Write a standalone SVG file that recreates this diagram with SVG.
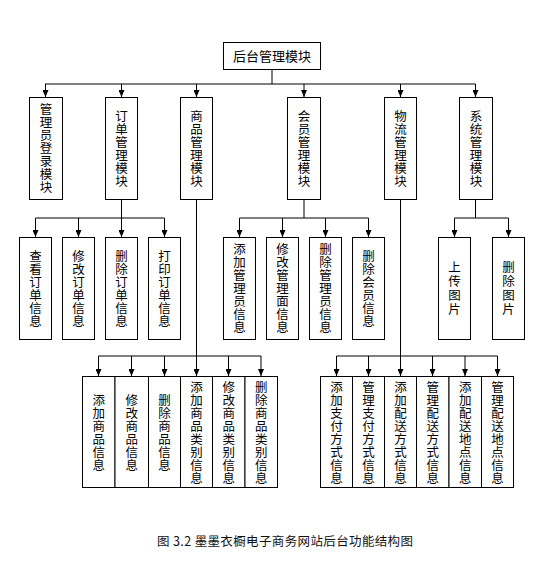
<svg xmlns="http://www.w3.org/2000/svg" width="550" height="577" viewBox="0 0 550 577">
<style>
.box{fill:#fff;stroke:#000;stroke-width:1}
.ln{fill:none;stroke:#000;stroke-width:1}
.t{font-family:"Noto Sans CJK SC","Noto Sans CJK JP",sans-serif;font-size:12.5px;fill:#000;text-anchor:middle}
.cap{font-family:"Noto Sans CJK SC","Noto Sans CJK JP",sans-serif;font-size:12.5px;fill:#111}
</style>
<defs>
<marker id="ah" markerUnits="userSpaceOnUse" markerWidth="7" markerHeight="6" viewBox="0 0 7 6" refX="7" refY="3" orient="auto">
<path d="M0,0 L7,3 L0,6 z" fill="#000"/>
</marker>
</defs>
<rect width="550" height="577" fill="#fff"/>

<g id="connectors">
<path class="ln" d="M272,69 V84 M45,84 H475.5"/>
<path class="ln" marker-end="url(#ah)" d="M45.5,84 V97"/>
<path class="ln" marker-end="url(#ah)" d="M121.5,84 V97"/>
<path class="ln" marker-end="url(#ah)" d="M196.5,84 V97"/>
<path class="ln" marker-end="url(#ah)" d="M304,84 V97"/>
<path class="ln" marker-end="url(#ah)" d="M400.5,84 V97"/>
<path class="ln" marker-end="url(#ah)" d="M475.5,84 V97"/>

<path class="ln" d="M121.5,199 V218 M35.5,218 H164.5"/>
<path class="ln" marker-end="url(#ah)" d="M35.5,218 V237"/>
<path class="ln" marker-end="url(#ah)" d="M78.5,218 V237"/>
<path class="ln" marker-end="url(#ah)" d="M121.5,218 V237"/>
<path class="ln" marker-end="url(#ah)" d="M164.5,218 V237"/>

<path class="ln" d="M304,199 V218 M239.5,218 H368.5"/>
<path class="ln" marker-end="url(#ah)" d="M239.5,218 V237"/>
<path class="ln" marker-end="url(#ah)" d="M282.5,218 V237"/>
<path class="ln" marker-end="url(#ah)" d="M325.5,218 V237"/>
<path class="ln" marker-end="url(#ah)" d="M368.5,218 V237"/>

<path class="ln" d="M475.5,199 V218 M454.5,218 H508.5"/>
<path class="ln" marker-end="url(#ah)" d="M454.5,218 V237"/>
<path class="ln" marker-end="url(#ah)" d="M508.5,218 V237"/>

<path class="ln" d="M196.5,199 V356 M98.5,356 H261"/>
<path class="ln" marker-end="url(#ah)" d="M98.5,356 V376"/>
<path class="ln" marker-end="url(#ah)" d="M131.5,356 V376"/>
<path class="ln" marker-end="url(#ah)" d="M164.5,356 V376"/>
<path class="ln" marker-end="url(#ah)" d="M196.5,356 V376"/>
<path class="ln" marker-end="url(#ah)" d="M228.5,356 V376"/>
<path class="ln" marker-end="url(#ah)" d="M261,356 V376"/>

<path class="ln" d="M400.5,199 V356 M336.5,356 H497.5"/>
<path class="ln" marker-end="url(#ah)" d="M336.5,356 V376"/>
<path class="ln" marker-end="url(#ah)" d="M368.5,356 V376"/>
<path class="ln" marker-end="url(#ah)" d="M400.5,356 V376"/>
<path class="ln" marker-end="url(#ah)" d="M432.5,356 V376"/>
<path class="ln" marker-end="url(#ah)" d="M465,356 V376"/>
<path class="ln" marker-end="url(#ah)" d="M497.5,356 V376"/>
</g>

<g id="root"><rect class="box" x="223.5" y="42.5" width="97" height="27"/><text class="t" x="272" y="61" style="font-size:13px">后台管理模块</text></g>

<g id="n-admin-login"><rect class="box" x="29.5" y="97.5" width="33" height="102"/>
<text class="t"><tspan x="46" y="114">管</tspan><tspan x="46" y="127">理</tspan><tspan x="46" y="140">员</tspan><tspan x="46" y="153">登</tspan><tspan x="46" y="166">录</tspan><tspan x="46" y="179">模</tspan><tspan x="46" y="192">块</tspan></text></g>
<g id="n-order"><rect class="box" x="105.5" y="97.5" width="32" height="102"/>
<text class="t"><tspan x="121.5" y="120.5">订</tspan><tspan x="121.5" y="133.5">单</tspan><tspan x="121.5" y="146.5">管</tspan><tspan x="121.5" y="159.5">理</tspan><tspan x="121.5" y="172.5">模</tspan><tspan x="121.5" y="185.5">块</tspan></text></g>
<g id="n-goods"><rect class="box" x="180.5" y="97.5" width="32" height="102"/>
<text class="t"><tspan x="196.5" y="120.5">商</tspan><tspan x="196.5" y="133.5">品</tspan><tspan x="196.5" y="146.5">管</tspan><tspan x="196.5" y="159.5">理</tspan><tspan x="196.5" y="172.5">模</tspan><tspan x="196.5" y="185.5">块</tspan></text></g>
<g id="n-member"><rect class="box" x="287.5" y="97.5" width="33" height="102"/>
<text class="t"><tspan x="304" y="120.5">会</tspan><tspan x="304" y="133.5">员</tspan><tspan x="304" y="146.5">管</tspan><tspan x="304" y="159.5">理</tspan><tspan x="304" y="172.5">模</tspan><tspan x="304" y="185.5">块</tspan></text></g>
<g id="n-logistics"><rect class="box" x="384.5" y="97.5" width="32" height="102"/>
<text class="t"><tspan x="400.5" y="120.5">物</tspan><tspan x="400.5" y="133.5">流</tspan><tspan x="400.5" y="146.5">管</tspan><tspan x="400.5" y="159.5">理</tspan><tspan x="400.5" y="172.5">模</tspan><tspan x="400.5" y="185.5">块</tspan></text></g>
<g id="n-system"><rect class="box" x="459.5" y="97.5" width="33" height="102"/>
<text class="t"><tspan x="476" y="120.5">系</tspan><tspan x="476" y="133.5">统</tspan><tspan x="476" y="146.5">管</tspan><tspan x="476" y="159.5">理</tspan><tspan x="476" y="172.5">模</tspan><tspan x="476" y="185.5">块</tspan></text></g>

<g id="o-view"><rect class="box" x="19.5" y="237.5" width="32" height="102"/>
<text class="t"><tspan x="35.5" y="260.5">查</tspan><tspan x="35.5" y="273.5">看</tspan><tspan x="35.5" y="286.5">订</tspan><tspan x="35.5" y="299.5">单</tspan><tspan x="35.5" y="312.5">信</tspan><tspan x="35.5" y="325.5">息</tspan></text></g>
<g id="o-edit"><rect class="box" x="62.5" y="237.5" width="32" height="102"/>
<text class="t"><tspan x="78.5" y="260.5">修</tspan><tspan x="78.5" y="273.5">改</tspan><tspan x="78.5" y="286.5">订</tspan><tspan x="78.5" y="299.5">单</tspan><tspan x="78.5" y="312.5">信</tspan><tspan x="78.5" y="325.5">息</tspan></text></g>
<g id="o-del"><rect class="box" x="105.5" y="237.5" width="32" height="102"/>
<text class="t"><tspan x="121.5" y="260.5">删</tspan><tspan x="121.5" y="273.5">除</tspan><tspan x="121.5" y="286.5">订</tspan><tspan x="121.5" y="299.5">单</tspan><tspan x="121.5" y="312.5">信</tspan><tspan x="121.5" y="325.5">息</tspan></text></g>
<g id="o-print"><rect class="box" x="148.5" y="237.5" width="32" height="102"/>
<text class="t"><tspan x="164.5" y="260.5">打</tspan><tspan x="164.5" y="273.5">印</tspan><tspan x="164.5" y="286.5">订</tspan><tspan x="164.5" y="299.5">单</tspan><tspan x="164.5" y="312.5">信</tspan><tspan x="164.5" y="325.5">息</tspan></text></g>

<g id="m-add"><rect class="box" x="223.5" y="237.5" width="32" height="102"/>
<text class="t"><tspan x="239.5" y="254">添</tspan><tspan x="239.5" y="267">加</tspan><tspan x="239.5" y="280">管</tspan><tspan x="239.5" y="293">理</tspan><tspan x="239.5" y="306">员</tspan><tspan x="239.5" y="319">信</tspan><tspan x="239.5" y="332">息</tspan></text></g>
<g id="m-edit"><rect class="box" x="266.5" y="237.5" width="32" height="102"/>
<text class="t"><tspan x="282.5" y="254">修</tspan><tspan x="282.5" y="267">改</tspan><tspan x="282.5" y="280">管</tspan><tspan x="282.5" y="293">理</tspan><tspan x="282.5" y="306">面</tspan><tspan x="282.5" y="319">信</tspan><tspan x="282.5" y="332">息</tspan></text></g>
<g id="m-deladmin"><rect class="box" x="309.5" y="237.5" width="32" height="102"/>
<text class="t"><tspan x="325.5" y="254">删</tspan><tspan x="325.5" y="267">除</tspan><tspan x="325.5" y="280">管</tspan><tspan x="325.5" y="293">理</tspan><tspan x="325.5" y="306">员</tspan><tspan x="325.5" y="319">信</tspan><tspan x="325.5" y="332">息</tspan></text></g>
<g id="m-delmember"><rect class="box" x="352.5" y="237.5" width="32" height="102"/>
<text class="t"><tspan x="368.5" y="260.5">删</tspan><tspan x="368.5" y="273.5">除</tspan><tspan x="368.5" y="286.5">会</tspan><tspan x="368.5" y="299.5">员</tspan><tspan x="368.5" y="312.5">信</tspan><tspan x="368.5" y="325.5">息</tspan></text></g>

<g id="s-upload"><rect class="box" x="438.5" y="237.5" width="32" height="102"/>
<text class="t"><tspan x="454.5" y="272">上</tspan><tspan x="454.5" y="286">传</tspan><tspan x="454.5" y="300">图</tspan><tspan x="454.5" y="314">片</tspan></text></g>
<g id="s-delete"><rect class="box" x="492.5" y="237.5" width="32" height="102"/>
<text class="t"><tspan x="508.5" y="272">删</tspan><tspan x="508.5" y="286">除</tspan><tspan x="508.5" y="300">图</tspan><tspan x="508.5" y="314">片</tspan></text></g>

<g id="g-add"><rect class="box" x="82.5" y="376.5" width="32.5" height="111"/>
<text class="t"><tspan x="98.75" y="404.5">添</tspan><tspan x="98.75" y="417.5">加</tspan><tspan x="98.75" y="430.5">商</tspan><tspan x="98.75" y="443.5">品</tspan><tspan x="98.75" y="456.5">信</tspan><tspan x="98.75" y="469.5">息</tspan></text></g>
<g id="g-edit"><rect class="box" x="115" y="376.5" width="33.5" height="111"/>
<text class="t"><tspan x="131.75" y="404.5">修</tspan><tspan x="131.75" y="417.5">改</tspan><tspan x="131.75" y="430.5">商</tspan><tspan x="131.75" y="443.5">品</tspan><tspan x="131.75" y="456.5">信</tspan><tspan x="131.75" y="469.5">息</tspan></text></g>
<g id="g-del"><rect class="box" x="148.5" y="376.5" width="32" height="111"/>
<text class="t"><tspan x="164.5" y="404.5">删</tspan><tspan x="164.5" y="417.5">除</tspan><tspan x="164.5" y="430.5">商</tspan><tspan x="164.5" y="443.5">品</tspan><tspan x="164.5" y="456.5">信</tspan><tspan x="164.5" y="469.5">息</tspan></text></g>
<g id="g-catadd"><rect class="box" x="180.5" y="376.5" width="32" height="111"/>
<text class="t"><tspan x="196.5" y="391.5">添</tspan><tspan x="196.5" y="404.5">加</tspan><tspan x="196.5" y="417.5">商</tspan><tspan x="196.5" y="430.5">品</tspan><tspan x="196.5" y="443.5">类</tspan><tspan x="196.5" y="456.5">别</tspan><tspan x="196.5" y="469.5">信</tspan><tspan x="196.5" y="482.5">息</tspan></text></g>
<g id="g-catedit"><rect class="box" x="212.5" y="376.5" width="32.5" height="111"/>
<text class="t"><tspan x="228.75" y="391.5">修</tspan><tspan x="228.75" y="404.5">改</tspan><tspan x="228.75" y="417.5">商</tspan><tspan x="228.75" y="430.5">品</tspan><tspan x="228.75" y="443.5">类</tspan><tspan x="228.75" y="456.5">别</tspan><tspan x="228.75" y="469.5">信</tspan><tspan x="228.75" y="482.5">息</tspan></text></g>
<g id="g-catdel"><rect class="box" x="245" y="376.5" width="32.5" height="111"/>
<text class="t"><tspan x="261.25" y="391.5">删</tspan><tspan x="261.25" y="404.5">除</tspan><tspan x="261.25" y="417.5">商</tspan><tspan x="261.25" y="430.5">品</tspan><tspan x="261.25" y="443.5">类</tspan><tspan x="261.25" y="456.5">别</tspan><tspan x="261.25" y="469.5">信</tspan><tspan x="261.25" y="482.5">息</tspan></text></g>

<g id="l-payadd"><rect class="box" x="320.5" y="376.5" width="32" height="111"/>
<text class="t"><tspan x="336.5" y="391.5">添</tspan><tspan x="336.5" y="404.5">加</tspan><tspan x="336.5" y="417.5">支</tspan><tspan x="336.5" y="430.5">付</tspan><tspan x="336.5" y="443.5">方</tspan><tspan x="336.5" y="456.5">式</tspan><tspan x="336.5" y="469.5">信</tspan><tspan x="336.5" y="482.5">息</tspan></text></g>
<g id="l-paymgr"><rect class="box" x="352.5" y="376.5" width="32" height="111"/>
<text class="t"><tspan x="368.5" y="391.5">管</tspan><tspan x="368.5" y="404.5">理</tspan><tspan x="368.5" y="417.5">支</tspan><tspan x="368.5" y="430.5">付</tspan><tspan x="368.5" y="443.5">方</tspan><tspan x="368.5" y="456.5">式</tspan><tspan x="368.5" y="469.5">信</tspan><tspan x="368.5" y="482.5">息</tspan></text></g>
<g id="l-shipadd"><rect class="box" x="384.5" y="376.5" width="32" height="111"/>
<text class="t"><tspan x="400.5" y="391.5">添</tspan><tspan x="400.5" y="404.5">加</tspan><tspan x="400.5" y="417.5">配</tspan><tspan x="400.5" y="430.5">送</tspan><tspan x="400.5" y="443.5">方</tspan><tspan x="400.5" y="456.5">式</tspan><tspan x="400.5" y="469.5">信</tspan><tspan x="400.5" y="482.5">息</tspan></text></g>
<g id="l-shipmgr"><rect class="box" x="416.5" y="376.5" width="32.5" height="111"/>
<text class="t"><tspan x="432.75" y="391.5">管</tspan><tspan x="432.75" y="404.5">理</tspan><tspan x="432.75" y="417.5">配</tspan><tspan x="432.75" y="430.5">送</tspan><tspan x="432.75" y="443.5">方</tspan><tspan x="432.75" y="456.5">式</tspan><tspan x="432.75" y="469.5">信</tspan><tspan x="432.75" y="482.5">息</tspan></text></g>
<g id="l-placeadd"><rect class="box" x="449" y="376.5" width="32.5" height="111"/>
<text class="t"><tspan x="465.25" y="391.5">添</tspan><tspan x="465.25" y="404.5">加</tspan><tspan x="465.25" y="417.5">配</tspan><tspan x="465.25" y="430.5">送</tspan><tspan x="465.25" y="443.5">地</tspan><tspan x="465.25" y="456.5">点</tspan><tspan x="465.25" y="469.5">信</tspan><tspan x="465.25" y="482.5">息</tspan></text></g>
<g id="l-placemgr"><rect class="box" x="481.5" y="376.5" width="32" height="111"/>
<text class="t"><tspan x="497.5" y="391.5">管</tspan><tspan x="497.5" y="404.5">理</tspan><tspan x="497.5" y="417.5">配</tspan><tspan x="497.5" y="430.5">送</tspan><tspan x="497.5" y="443.5">地</tspan><tspan x="497.5" y="456.5">点</tspan><tspan x="497.5" y="469.5">信</tspan><tspan x="497.5" y="482.5">息</tspan></text></g>

<text class="cap" x="157" y="546" textLength="256" lengthAdjust="spacing">图 3.2 墨墨衣橱电子商务网站后台功能结构图</text>
</svg>
